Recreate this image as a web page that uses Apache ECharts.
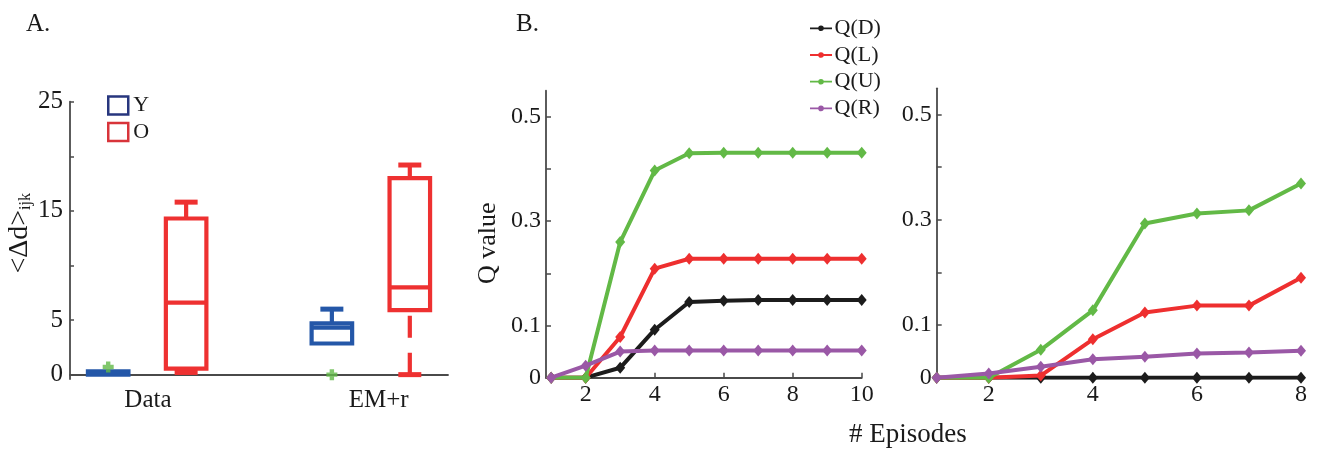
<!DOCTYPE html>
<html><head><meta charset="utf-8">
<script src="https://cdn.jsdelivr.net/npm/echarts@6/dist/echarts.min.js"></script>
<style>html,body{margin:0;padding:0;background:#fff}#c{width:1320px;height:449px}</style>
</head><body><div id="c"></div>
<script>
// ---------- Panel A data ----------
const groupLabels = ['Data', 'EM+r'];
const groupLabelPos = [1.0, 3.96];
const yTicksA = [0, 5, 10, 15, 20, 25];
const yLabelsA = [0, 5, 15, 25];
// [position, lowerWhisker, q1, median, q3, upperWhisker]
const boxY = [[0.49, 0.0, 0.0, 0.12, 0.3, 0.3], [3.36, 2.85, 2.85, 4.3, 4.7, 6.0]];
const boxO = [[1.49, 0.2, 0.55, 6.6, 14.3, 15.8], [4.36, 0.0, 5.9, 8.0, 18.0, 19.2]];
const outliersA = [[0.49, 0.7], [3.36, 0.0]];

// ---------- Panel B data ----------
const qNames = ['Q(D)', 'Q(L)', 'Q(U)', 'Q(R)'];
const episodesL = [1, 2, 3, 4, 5, 6, 7, 8, 9, 10];
const qD_L = [0, 0, 0.019, 0.092, 0.145, 0.1475, 0.149, 0.149, 0.149, 0.149];
const qL_L = [0, 0, 0.078, 0.209, 0.228, 0.228, 0.228, 0.228, 0.228, 0.228];
const qU_L = [0, 0, 0.260, 0.397, 0.430, 0.431, 0.431, 0.431, 0.431, 0.431];
const qR_L = [0, 0.023, 0.050, 0.052, 0.052, 0.052, 0.052, 0.052, 0.052, 0.052];
const episodesR = [1, 2, 3, 4, 5, 6, 7, 8];
const qD_R = [0, 0, 0, 0, 0, 0, 0, 0];
const qL_R = [0, 0, 0.004, 0.073, 0.124, 0.137, 0.137, 0.190];
const qU_R = [0, 0, 0.053, 0.128, 0.293, 0.312, 0.318, 0.369];
const qR_R = [0, 0.008, 0.021, 0.035, 0.040, 0.046, 0.048, 0.051];
const xTicksL = [2, 4, 6, 8, 10];
const xTicksR = [2, 4, 6, 8];
const yTicksB = [0, 0.1, 0.2, 0.3, 0.4, 0.5];
const yLabelsB = [0, 0.1, 0.3, 0.5];

// ---------- styles ----------
const FONT = 'Liberation Serif';
const AXIS_COLOR = '#4a4a4a';
const TEXT_COLOR = '#1a1a1a';
const BLUE = '#2457a8';
const RED = '#ee3131';
const GREEN = '#62b947';
const qColors = ['#1c1c1c', '#ee2f2f', '#62b946', '#9a58a6'];

function zip(xs, ys) { return xs.map((x, i) => [x, ys[i]]); }

function boxRender(color) {
  return function (params, api) {
    const x = api.value(0);
    const lw = api.value(1), q1 = api.value(2), med = api.value(3), q3 = api.value(4), uw = api.value(5);
    const w = api.size([0.52, 0])[0];
    const capHalf = 11.5;
    const c = (v) => api.coord([x, v]);
    const pq1 = c(q1), pq3 = c(q3), pm = c(med), plw = c(lw), puw = c(uw);
    const cx = pq1[0];
    const lineStyle = { stroke: color, lineWidth: 4.2, fill: null };
    const dashStyle = { stroke: color, lineWidth: 4.2, lineDash: [22, 15], fill: null };
    const children = [];
    // whiskers drawn from cap toward box
    if (uw > q3) {
      children.push({ type: 'line', shape: { x1: cx, y1: puw[1], x2: cx, y2: pq3[1] }, style: dashStyle });
      children.push({ type: 'line', shape: { x1: cx - capHalf, y1: puw[1], x2: cx + capHalf, y2: puw[1] }, style: Object.assign({}, lineStyle, { lineWidth: 5 }) });
    }
    if (lw < q1) {
      children.push({ type: 'line', shape: { x1: cx, y1: plw[1], x2: cx, y2: pq1[1] }, style: dashStyle });
      children.push({ type: 'line', shape: { x1: cx - capHalf, y1: plw[1], x2: cx + capHalf, y2: plw[1] }, style: Object.assign({}, lineStyle, { lineWidth: 5 }) });
    }
    children.push({ type: 'rect', shape: { x: cx - w / 2, y: pq3[1], width: w, height: pq1[1] - pq3[1] }, style: lineStyle });
    children.push({ type: 'line', shape: { x1: cx - w / 2, y1: pm[1], x2: cx + w / 2, y2: pm[1] }, style: lineStyle });
    return { type: 'group', children: children };
  };
}

const plusPath = 'path://M3,0 H7 V3 H10 V7 H7 V10 H3 V7 H0 V3 H3 Z';
const legendLinePath = 'path://M0,4.1 H22 V5.9 H0 Z M11,2.2 A2.8,2.8 0 1 1 10.99,2.2 Z M0,0 H0.01 V10 H0 Z';

const axisLineStyle = { lineStyle: { color: AXIS_COLOR, width: 1.8 } };
const tickLabelStyle = { fontFamily: FONT, fontSize: 24, color: TEXT_COLOR };

function qSeries(names, xs, arrays, xIdx) {
  return arrays.map((arr, i) => ({
    type: 'line', name: names[i], xAxisIndex: xIdx, yAxisIndex: xIdx,
    data: zip(xs, arr), symbol: 'diamond', symbolSize: [10, 12],
    lineStyle: { color: qColors[i], width: 4 }, itemStyle: { color: qColors[i] },
    emphasis: { disabled: true }, z: 3 + i, animation: false
  }));
}

const option = {
  backgroundColor: '#fff',
  animation: false,
  title: [
    { text: 'A.', left: 21, top: 7, textStyle: { fontFamily: FONT, fontSize: 25, fontWeight: 'normal', color: TEXT_COLOR } },
    { text: 'B.', left: 511, top: 7, textStyle: { fontFamily: FONT, fontSize: 25, fontWeight: 'normal', color: TEXT_COLOR } },
    { text: '# Episodes', left: 844, top: 416, textStyle: { fontFamily: FONT, fontSize: 27, fontWeight: 'normal', color: TEXT_COLOR } }
  ],
  legend: [
    {
      orient: 'vertical', left: 107, top: 94.5, padding: 0, itemWidth: 20, itemHeight: 18, itemGap: 4.4,
      textStyle: { fontFamily: FONT, fontSize: 22, lineHeight: 18, color: TEXT_COLOR, padding: [0, 0, 0, 0] },
      selectedMode: false,
      data: [
        { name: 'Y', icon: 'rect', itemStyle: { color: '#fff', borderColor: '#27367e', borderWidth: 2.5 } },
        { name: 'O', icon: 'rect', itemStyle: { color: '#fff', borderColor: '#d8343a', borderWidth: 2.5 } }
      ]
    },
    {
      orient: 'vertical', left: 810, top: 17.3, padding: 0, itemWidth: 23, itemHeight: 10, itemGap: 4.7,
      textStyle: { fontFamily: FONT, fontSize: 22, color: TEXT_COLOR, lineHeight: 22, padding: [0, 0, 0, -3] },
      selectedMode: false,
      data: qNames.map((n, i) => ({ name: n, icon: legendLinePath, itemStyle: { color: qColors[i] } }))
    }
  ],
  grid: [
    { left: 70, top: 101.7, width: 378, height: 277.3 },
    { left: 546, top: 90.7, width: 315.7, height: 287 },
    { left: 936.7, top: 88.3, width: 364.3, height: 289.4 }
  ],
  xAxis: [
    {
      gridIndex: 0, type: 'value', min: 0, max: 4.85, splitLine: { show: false },
      axisLine: axisLineStyle, axisTick: { show: false },
      axisLabel: Object.assign({}, tickLabelStyle, { fontSize: 25, margin: 9, customValues: groupLabelPos,
        formatter: (v) => { let b = 0; groupLabelPos.forEach((p, i) => { if (Math.abs(p - v) < Math.abs(groupLabelPos[b] - v)) b = i; }); return groupLabels[b]; } })
    },
    {
      gridIndex: 1, type: 'value', min: 0.85, max: 10, splitLine: { show: false },
      axisLine: axisLineStyle,
      axisTick: { inside: true, length: 5, customValues: xTicksL, lineStyle: { color: AXIS_COLOR, width: 1.5 } },
      axisLabel: Object.assign({}, tickLabelStyle, { margin: 5, customValues: xTicksL })
    },
    {
      gridIndex: 2, type: 'value', min: 1, max: 8, splitLine: { show: false },
      axisLine: axisLineStyle,
      axisTick: { inside: true, length: 5, customValues: xTicksR, lineStyle: { color: AXIS_COLOR, width: 1.5 } },
      axisLabel: Object.assign({}, tickLabelStyle, { margin: 5, customValues: xTicksR })
    }
  ],
  yAxis: [
    {
      gridIndex: 0, type: 'value', min: -0.4, max: 25, splitLine: { show: false },
      axisLine: { show: true, lineStyle: { color: AXIS_COLOR, width: 1.8 } },
      axisTick: { show: true, inside: true, length: 4, customValues: yTicksA, lineStyle: { color: AXIS_COLOR, width: 1.5 } },
      axisLabel: Object.assign({}, tickLabelStyle, { fontSize: 25, margin: 7, customValues: yLabelsA }),
      name: '{m|<Δd>}{s|ijk}', nameLocation: 'middle', nameGap: 36, nameRotate: 90,
      nameTextStyle: { padding: [0, 0, 0, 14], rich: {
        m: { fontFamily: FONT, fontSize: 28, color: TEXT_COLOR },
        s: { fontFamily: FONT, fontSize: 16, color: TEXT_COLOR, verticalAlign: 'bottom', padding: [10, 0, 0, 0] }
      } }
    },
    {
      gridIndex: 1, type: 'value', min: 0, max: 0.55, splitLine: { show: false },
      axisLine: { show: true, lineStyle: { color: AXIS_COLOR, width: 1.8 } },
      axisTick: { show: true, inside: true, length: 5, customValues: yTicksB, lineStyle: { color: AXIS_COLOR, width: 1.5 } },
      axisLabel: Object.assign({}, tickLabelStyle, { margin: 5, customValues: yLabelsB, formatter: (v) => String(+v.toFixed(2)) }),
      name: 'Q value', nameLocation: 'middle', nameGap: 45, nameRotate: 90,
      nameTextStyle: { fontFamily: FONT, fontSize: 26, color: TEXT_COLOR, padding: [0, 18, 0, 0] }
    },
    {
      gridIndex: 2, type: 'value', min: 0, max: 0.55, splitLine: { show: false },
      axisLine: { show: true, lineStyle: { color: AXIS_COLOR, width: 1.8 } },
      axisTick: { show: true, inside: true, length: 5, customValues: yTicksB, lineStyle: { color: AXIS_COLOR, width: 1.5 } },
      axisLabel: Object.assign({}, tickLabelStyle, { margin: 5, customValues: yLabelsB, formatter: (v) => String(+v.toFixed(2)) })
    }
  ],
  series: [
    {
      type: 'custom', name: 'Y', xAxisIndex: 0, yAxisIndex: 0, data: boxY,
      encode: { x: 0, y: [1, 2, 3, 4, 5] }, renderItem: boxRender(BLUE), z: 2, clip: false
    },
    {
      type: 'custom', name: 'O', xAxisIndex: 0, yAxisIndex: 0, data: boxO,
      encode: { x: 0, y: [1, 2, 3, 4, 5] }, renderItem: boxRender(RED), z: 2, clip: false
    },
    {
      type: 'scatter', name: 'outliers', xAxisIndex: 0, yAxisIndex: 0, data: outliersA,
      symbol: plusPath, symbolSize: 11, itemStyle: { color: GREEN }, z: 4, clip: false
    }
  ]
    .concat(qSeries(qNames, episodesL, [qD_L, qL_L, qU_L, qR_L], 1))
    .concat(qSeries(qNames, episodesR, [qD_R, qL_R, qU_R, qR_R], 2))
};

const chart = echarts.init(document.getElementById('c'), null, { renderer: 'canvas' });
chart.setOption(option);
</script>
</body></html>
